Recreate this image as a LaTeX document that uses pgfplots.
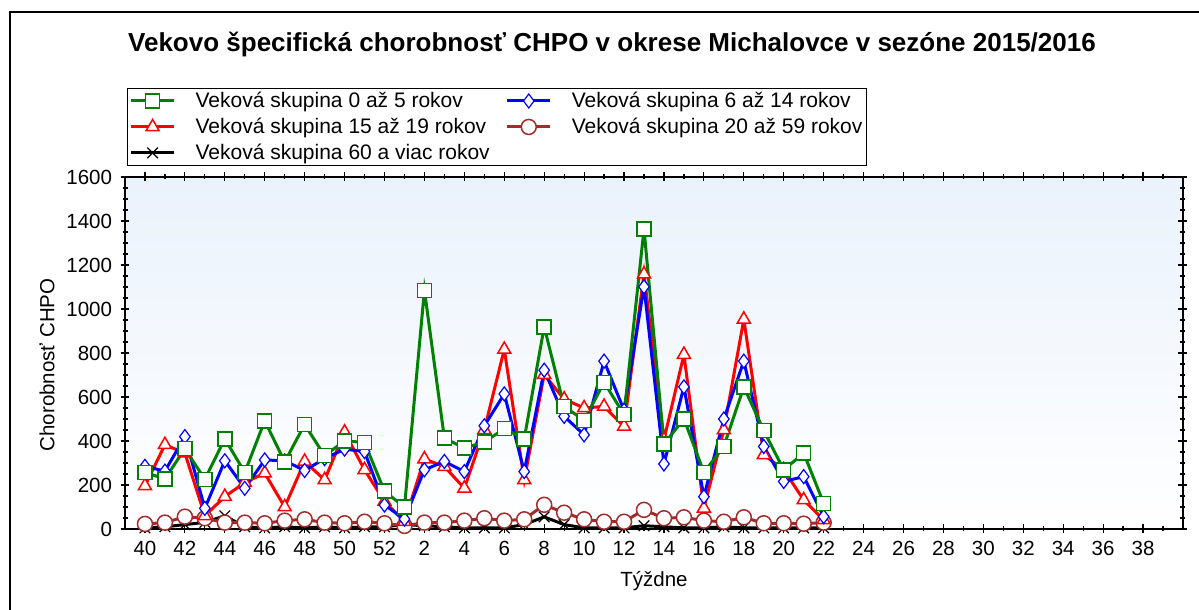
\documentclass[border=0pt]{standalone}
\usepackage{fontspec}
\setmainfont{Liberation Sans}
\usepackage{pgfplots}
\usepackage{pgfplotstable}
\pgfplotsset{compat=1.18}
\definecolor{cgreen}{RGB}{0,128,0}
\definecolor{cblue}{RGB}{0,0,255}
\definecolor{cred}{RGB}{255,0,0}
\definecolor{cbrown}{RGB}{160,45,45}
\definecolor{bgtop}{RGB}{234,242,252}

% i = position (0 = week 40, 12 = week 52, 13 = week 1, 14 = week 2, ...)
\pgfplotstableread{
i  g    b    r    br   bk
0  257  285  196  23   5
1  228  263  383  29   10
2  365  420  345  56   20
3  226  94   60   49   30
4  410  310  147  29   60
5  257  185  211  29   10
6  492  314  254  26   5
7  305  310  100  38   10
8  475  266  307  44   5
9  333  320  223  29   10
10 401  363  440  26   5
11 393  352  269  33   10
12 172  109  125  26   10
13 99   45   33   14   20
14 1085 269  318  29   15
15 413  307  284  29   10
16 368  261  185  38   5
17 395  469  451  49   5
18 456  614  816  38   5
19 410  261  223  44   20
20 919  722  702  110  55
21 557  512  590  74   20
22 494  428  550  44   5
23 667  763  557  33   5
24 520  540  466  33   5
25 1363 1101 1158 87   15
26 386  296  406  49   10
27 501  646  793  53   5
28 257  147  94   38   5
29 375  500  450  33   10
30 646  763  953  53   5
31 447  375  337  26   5
32 269  216  269  26   5
33 345  238  132  24   5
34 117  56   41   29   5
}\data

\pgfplotsset{
  sgreen/.style={color=cgreen, line width=3pt, mark=square*, mark size=7pt,
    mark options={fill=white, draw=cgreen, line width=1.5pt, solid}},
  sblue/.style={color=cblue, line width=3pt, mark=diamond*, mark size=7pt,
    mark options={fill=white, draw=cblue, line width=1.2pt, solid}},
  sred/.style={color=cred, line width=3pt, mark=triangle*, mark size=7.5pt,
    mark options={fill=white, draw=cred, line width=1.5pt, solid}},
  sbrown/.style={color=cbrown, line width=3pt, mark=*, mark size=7.5pt,
    mark options={fill=white, draw=cbrown, line width=1.5pt, solid}},
  sblack/.style={color=black, line width=3pt, mark=x, mark size=7.5pt,
    mark options={draw=black, line width=1.2pt, solid}},
}

\begin{document}
\begin{tikzpicture}
\useasboundingbox (0pt,0pt) rectangle (1199pt,610pt);
\draw[line width=1.5pt] (10pt,-20pt) -- (10pt,598pt) -- (1230pt,598pt);
\node[font=\bfseries\fontsize{26}{31}\selectfont] at (612pt,565pt)
  {Vekovo špecifická chorobnosť CHPO v okrese Michalovce v sezóne 2015/2016};
\begin{axis}[
  at={(125pt,81pt)}, anchor=south west,
  scale only axis, width=1058pt, height=352pt,
  xmin=-1, xmax=52, ymin=0, ymax=1600,
  xtick={0,2,...,50},
  xticklabels={40,42,44,46,48,50,52,2,4,6,8,10,12,14,16,18,20,22,24,26,28,30,32,34,36,38},
  minor xtick={1,3,...,51},
  ytick={0,200,...,1600},
  minor y tick num=3,
  tick align=center,
  major tick length=9pt, minor tick length=5pt,
  every tick/.style={black, line width=1.2pt},
  axis line style={line width=1.5pt},
  /pgf/number format/assume math mode=true,
  /pgf/number format/1000 sep={},
  tick label style={font=\fontsize{20.5}{24}\selectfont},
  xticklabel style={yshift=-4pt},
  yticklabel style={xshift=-5pt},
  label style={font=\fontsize{20.5}{24}\selectfont},
  xlabel={Týždne},
  xlabel style={yshift=-9pt},
  ylabel={Chorobnosť CHPO},
  ylabel style={at={(ticklabel cs:0.466)}, yshift=5pt},
  axis background/.style={top color=bgtop, bottom color=white},
  legend columns=2,
  legend cell align=left,
  legend style={at={(0,1)}, anchor=south west, xshift=2pt, yshift=11pt,
    draw=black, line width=1.2pt, fill=white,
    font=\fontsize{21}{25}\selectfont, inner sep=2pt,
    row sep=5pt,
    /tikz/every odd column/.append style={column sep=18pt},
    /tikz/every even column/.append style={column sep=14pt}},
  legend image code/.code={
    \draw[mark repeat=2, mark phase=2] plot coordinates {(0pt,0pt) (21.5pt,0pt) (43pt,0pt)};},
]
\addlegendimage{sgreen}
\addlegendentry{Veková skupina 0 až 5 rokov}
\addlegendimage{sblue}
\addlegendentry{Veková skupina 6 až 14 rokov}
\addlegendimage{sred}
\addlegendentry{Veková skupina 15 až 19 rokov}
\addlegendimage{sbrown}
\addlegendentry{Veková skupina 20 až 59 rokov}
\addlegendimage{sblack}
\addlegendentry{Veková skupina 60 a viac rokov}

\addplot[sblack, forget plot] table[x=i, y=bk] {\data};
\addplot[sbrown, forget plot] table[x=i, y=br] {\data};
\addplot[sred, forget plot] table[x=i, y=r] {\data};
\addplot[sblue, forget plot] table[x=i, y=b] {\data};
\addplot[sgreen, forget plot] table[x=i, y=g] {\data};
\end{axis}
\end{tikzpicture}
\end{document}
